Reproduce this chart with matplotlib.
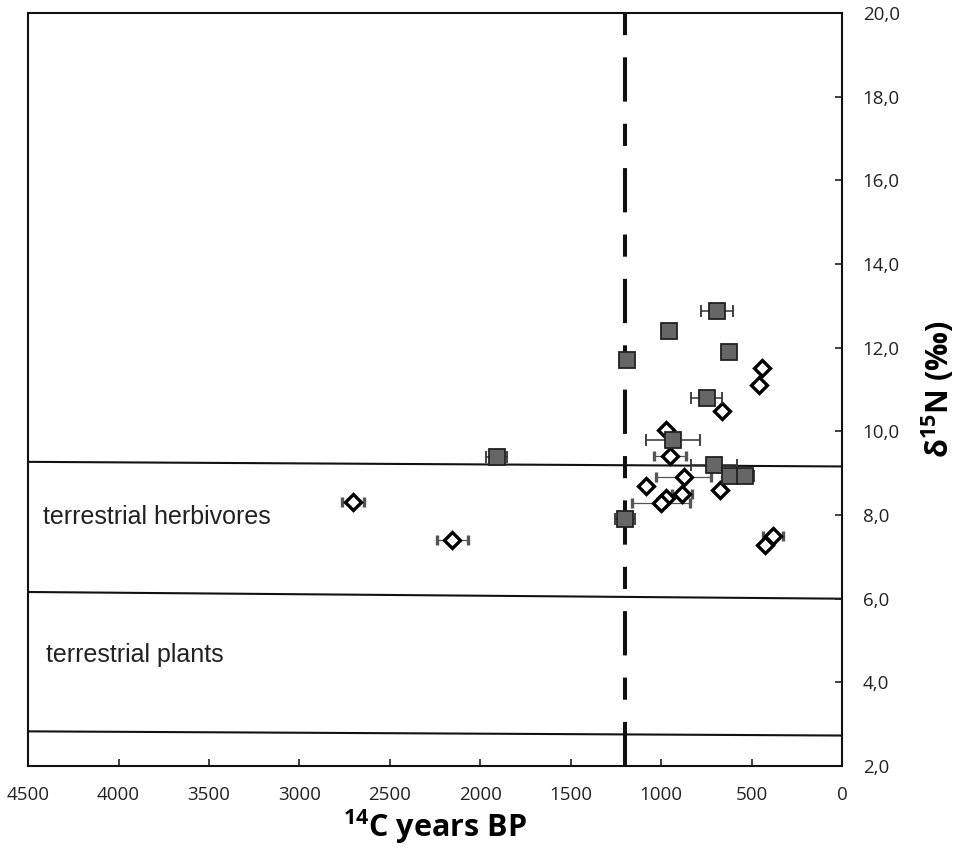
import matplotlib
matplotlib.use('Agg')
from matplotlib import pyplot as plt
from matplotlib.ticker import FuncFormatter, MultipleLocator

plt.rcParams['font.family'] = ['Open Sans', 'DejaVu Sans']
plt.rcParams['mathtext.fontset'] = 'custom'
plt.rcParams['mathtext.bf'] = 'Open Sans:bold'
plt.rcParams['mathtext.rm'] = 'Open Sans:bold'
plt.rcParams['mathtext.default'] = 'bf'

# grey squares: 14C age (BP), d15N, age error
sq_age = [689, 956, 623, 1190, 748, 933, 706, 619, 536, 1200, 1909]
sq_n15 = [12.88, 12.40, 11.90, 11.71, 10.80, 9.79, 9.20, 8.92, 8.92, 7.90, 9.39]
sq_err = [88, 0, 0, 40, 85, 150, 128, 0, 50, 55, 59]

# open diamonds
di_age = [444, 459, 662, 975, 951, 876, 1085, 674, 886, 975, 1000, 383, 426, 2706, 2154]
di_n15 = [11.51, 11.11, 10.49, 10.02, 9.42, 8.90, 8.70, 8.60, 8.50, 8.40, 8.29, 7.50, 7.28, 8.30, 7.40]
di_err = [0, 0, 0, 0, 86, 150, 0, 0, 55, 0, 160, 55, 0, 61, 87]

# boundary lines (value at 4500 BP, value at 0 BP)
bound_x = [4500, 0]
herb_top = [9.27, 9.16]
herb_bottom = [6.16, 6.00]
plant_bottom = [2.83, 2.73]
cutoff = 1200

fig = plt.figure(figsize=(9.7, 8.55), dpi=100)
ax = fig.add_axes([0.029, 0.104, 0.839, 0.881])

for yy in (herb_top, herb_bottom, plant_bottom):
    ax.plot(bound_x, yy, color='#111111', lw=1.5, zorder=1)

ax.plot([cutoff, cutoff], [20, 2], color='#111111', lw=2.9,
        linestyle=(0, (5.5, 5.5, 11, 5.5)), zorder=1)

ax.errorbar(di_age, di_n15, xerr=di_err, fmt='D', ms=8.3, mfc='white', mec='black',
            mew=2.4, ecolor='#555555', elinewidth=0.9, capsize=3.5, capthick=0.9, zorder=3)
ax.errorbar(sq_age, sq_n15, xerr=sq_err, fmt='s', ms=11, mfc='#666666', mec='#222222',
            mew=1.3, ecolor='#333333', elinewidth=1.1, capsize=4, capthick=1.1, zorder=4)

ax.text(4420, 7.95, 'terrestrial herbivores', family='Liberation Sans', fontsize=18,
        va='center', ha='left', color='#222222')
ax.text(4400, 4.65, 'terrestrial plants', family='Liberation Sans', fontsize=18,
        va='center', ha='left', color='#222222')

ax.set_xlim(4500, 0)
ax.set_ylim(2, 20)
ax.xaxis.set_major_locator(MultipleLocator(500))
ax.yaxis.set_major_locator(MultipleLocator(2))
ax.yaxis.set_major_formatter(FuncFormatter(lambda v, p: f'{v:.1f}'.replace('.', ',')))
ax.yaxis.tick_right()
ax.yaxis.set_label_position('right')
ax.tick_params(axis='both', direction='in', length=5, width=1.2, labelsize=13.5, colors='#222222')
ax.tick_params(axis='x', pad=14)
ax.tick_params(axis='y', pad=15)
for s in ax.spines.values():
    s.set_linewidth(1.5)
    s.set_color('#111111')

ax.set_xlabel(r'$^{14}$C years BP', fontsize=22, fontweight='bold', labelpad=3)
ax.set_ylabel('δ$^{15}$N (‰)', fontsize=22, fontweight='bold', rotation=90, labelpad=14)

fig.savefig('out.png', dpi=100)
